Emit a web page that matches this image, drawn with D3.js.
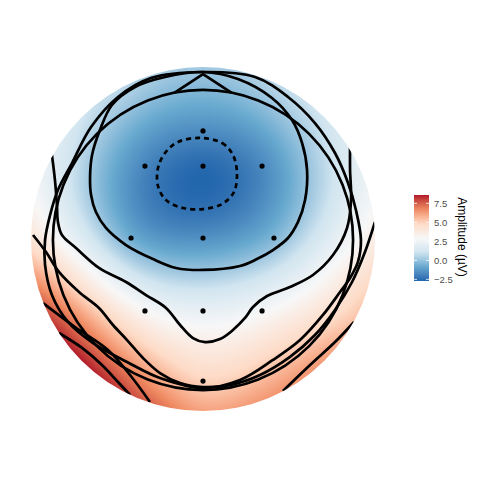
<!DOCTYPE html>
<html><head><meta charset="utf-8">
<script src="https://cdn.jsdelivr.net/npm/d3@7"></script>
<style>body{margin:0;background:#fff}svg{display:block}</style>
</head><body>
<script>
// ---------------- data ----------------
const electrodes = ["Fpz","F3","Fz","F4","C3","Cz","C4","P3","Pz","P4","Oz"];
const elecX = [0, -0.405, 0, 0.412, -0.502, 0, 0.495, -0.405, 0, 0.412, 0];
const elecY = [0.754, 0.509, 0.509, 0.509, 0.007, 0.007, 0.007, -0.502, -0.502, -0.502, -0.991];
const amplitude = [-1.6, -1.8, -2.6, -1.7, -0.7, -1.5, -0.4, 3.0, 2.2, 2.8, 5.0];
// extrapolated rim of the skirt (angle clockwise from nose, degrees)
const rimAngle = [0, 30, 60, 90, 105, 120, 135, 150, 165, 180, 195, 210, 225, 240, 255, 270, 300, 330];
const rimValue = [0.2, 0.8, 1.8, 3.6, 4.8, 5.5, 6.3, 6.5, 6.3, 6.2, 7.2, 8.2, 8.6, 8.2, 6.6, 4.3, 1.8, 0.7];
const colourLimits = [-2.72, 8.6];
const legendBreaks = [-2.5, 0, 2.5, 5, 7.5];
const legendTitle = "Amplitude (\u00b5V)";
const skirtRadius = 1.2;
const headRadius = 1.047;
const headCentre = [0, -0.007];
const nose = [[-0.2,1.02],[0,1.151],[0.2,1.02]];
// contour lines (head coordinates)
const contourMin = [[-0.021,0.705],[0.133,0.670],[0.209,0.586],[0.237,0.460],[0.216,0.328],[0.133,0.244],[0,0.209],[-0.140,0.216],[-0.258,0.272],[-0.314,0.370],[-0.314,0.495],[-0.265,0.600],[-0.174,0.677]];
const contourZero = [[0,1.165],[0.244,1.116],[0.481,0.984],[0.621,0.830],[0.691,0.670],[0.726,0.481],[0.712,0.272],[0.663,0.119],[0.593,0.007],[0.488,-0.077],[0.376,-0.140],[0.258,-0.188],[0,-0.216],[-0.188,-0.202],[-0.349,-0.140],[-0.537,-0.042],[-0.677,0.077],[-0.747,0.188],[-0.781,0.307],[-0.788,0.433],[-0.774,0.586],[-0.719,0.760],[-0.635,0.935],[-0.474,1.060],[-0.265,1.130]];
const contourMid = [[-1.054,0.586],[-1.033,0.412],[-1.019,0.237],[-1.012,0.119],[-0.984,0.028],[-0.886,-0.063],[-0.726,-0.202],[-0.537,-0.300],[-0.398,-0.391],[-0.258,-0.481],[-0.160,-0.600],[-0.070,-0.691],[0.014,-0.719],[0.119,-0.698],[0.209,-0.635],[0.293,-0.551],[0.349,-0.474],[0.447,-0.398],[0.607,-0.335],[0.767,-0.251],[0.907,-0.112],[1.005,0.077],[1.033,0.272],[1.026,0.481],[1.026,0.656]];
const contourOuter = [[0,1.165],[0.363,1.130],[0.593,0.991],[0.781,0.809],[0.921,0.600],[1.012,0.391],[1.067,0.202],[1.102,-0.007],[1.081,-0.160],[1.026,-0.272],[0.956,-0.370],[0.837,-0.530],[0.677,-0.705],[0.488,-0.844],[0.258,-0.984],[0,-1.040],[-0.300,-0.970],[-0.530,-0.858],[-0.767,-0.726],[-0.942,-0.579],[-1.054,-0.391],[-1.102,-0.181],[-1.102,-0.007],[-1.067,0.167],[-1.012,0.342],[-0.914,0.530],[-0.781,0.781],[-0.593,0.991],[-0.363,1.123]];
const contourLow = [[-1.186,0.028],[-1.095,-0.091],[-1.005,-0.230],[-0.865,-0.370],[-0.726,-0.481],[-0.628,-0.600],[-0.530,-0.705],[-0.419,-0.830],[-0.300,-0.935],[-0.160,-1.005],[0,-1.033],[0.188,-1.019],[0.398,-0.949],[0.607,-0.823],[0.781,-0.670],[0.921,-0.495],[1.040,-0.300],[1.130,-0.091],[1.200,0.119]];
const contourCornerA = [[-1.005,-0.656],[-0.844,-0.760],[-0.705,-0.879],[-0.593,-0.998],[-0.509,-1.088]];
const contourCornerB = [[-1.116,-0.447],[-0.893,-0.614],[-0.663,-0.774],[-0.509,-0.949],[-0.370,-1.137]];
const contourCornerR = [[1.054,-0.579],[0.921,-0.719],[0.747,-0.879],[0.558,-1.060]];
const openLines = [contourMid, contourLow, contourCornerA, contourCornerB, contourCornerR];
const closedLines = [contourZero, contourOuter];
const rdbu = ["#2166AC","#67A9CF","#D1E5F0","#F7F7F7","#FDDBC7","#EF8A62","#B2182B"];

// ---------------- layout ----------------
const W = 480, H = 480;
const x = d3.scaleLinear().domain([-1.2, 1.2]).range([31, 375]);
const y = d3.scaleLinear().domain([-1.2, 1.2]).range([411, 67]);
const colour = d3.scaleLinear()
  .domain(d3.range(rdbu.length).map(i => colourLimits[0] + i*(colourLimits[1]-colourLimits[0])/(rdbu.length-1)))
  .range(rdbu).interpolate(d3.interpolateLab).clamp(true);

const svg = d3.select("body").append("svg").attr("width", W).attr("height", H);
const defs = svg.append("defs");
defs.append("clipPath").attr("id","skirt").append("circle")
  .attr("cx", x(0)).attr("cy", y(0)).attr("r", x(skirtRadius) - x(0));

// thin-plate spline through electrode and rim amplitudes
function tps(px, py, v) {
  const n = px.length, N = n + 3;
  const phi = r => r < 1e-12 ? 0 : r*r*Math.log(r);
  const A = Array.from({length:N}, () => new Array(N+1).fill(0));
  for (let i=0;i<n;i++){
    for (let j=0;j<n;j++) A[i][j] = phi(Math.hypot(px[i]-px[j], py[i]-py[j]));
    A[i][n]=1; A[i][n+1]=px[i]; A[i][n+2]=py[i];
    A[n][i]=1; A[n+1][i]=px[i]; A[n+2][i]=py[i];
    A[i][N]=v[i];
  }
  for (let c=0;c<N;c++){
    let p=c; for (let r=c+1;r<N;r++) if (Math.abs(A[r][c])>Math.abs(A[p][c])) p=r;
    [A[c],A[p]]=[A[p],A[c]];
    for (let r=0;r<N;r++){ if(r===c) continue; const f=A[r][c]/A[c][c]; for(let k=c;k<=N;k++) A[r][k]-=f*A[c][k]; }
  }
  const w = A.map((row,i)=>row[N]/row[i]);
  return (qx,qy) => { let s=w[n]+w[n+1]*qx+w[n+2]*qy; for(let i=0;i<n;i++) s+=w[i]*phi(Math.hypot(qx-px[i],qy-py[i])); return s; };
}
const rad = a => a*Math.PI/180;
const allX = elecX.concat(rimAngle.map(a => skirtRadius*Math.sin(rad(a))));
const allY = elecY.concat(rimAngle.map(a => skirtRadius*Math.cos(rad(a))));
const field = tps(allX, allY, amplitude.concat(rimValue));

const x0 = Math.floor(x(-skirtRadius)), x1 = Math.ceil(x(skirtRadius));
const y0 = Math.floor(y(skirtRadius)), y1 = Math.ceil(y(-skirtRadius));
const cw = x1-x0, ch = y1-y0;
const canvas = document.createElement("canvas"); canvas.width=cw; canvas.height=ch;
const ctx = canvas.getContext("2d"); const img = ctx.createImageData(cw,ch);
for (let j=0;j<ch;j++) for (let i=0;i<cw;i++){
  const qx = x.invert(x0+i+0.5), qy = y.invert(y0+j+0.5);
  const c = d3.rgb(colour(field(qx,qy)));
  const k=(j*cw+i)*4; img.data[k]=c.r; img.data[k+1]=c.g; img.data[k+2]=c.b; img.data[k+3]=255;
}
ctx.putImageData(img,0,0);
svg.append("image").attr("href", canvas.toDataURL()).attr("x",x0).attr("y",y0)
  .attr("width",cw).attr("height",ch).attr("clip-path","url(#skirt)");

const g = svg.append("g").attr("clip-path","url(#skirt)")
  .attr("fill","none").attr("stroke","#000").attr("stroke-width",2.7);
const open = d3.line().x(d=>x(d[0])).y(d=>y(d[1])).curve(d3.curveCatmullRom.alpha(0.5));
const closed = d3.line().x(d=>x(d[0])).y(d=>y(d[1])).curve(d3.curveCatmullRomClosed.alpha(0.5));
g.selectAll("path.open").data(openLines).join("path").attr("class","open").attr("d",open);
g.selectAll("path.closed").data(closedLines).join("path").attr("class","closed").attr("d",closed);
g.append("path").attr("d",closed(contourMin)).attr("stroke-dasharray","5,4");
g.append("circle").attr("cx",x(headCentre[0])).attr("cy",y(headCentre[1])).attr("r",x(headRadius)-x(0));
g.append("path").attr("d",d3.line().x(d=>x(d[0])).y(d=>y(d[1]))(nose)).attr("stroke-linejoin","miter");

svg.append("g").selectAll("circle").data(electrodes).join("circle")
  .attr("cx",(d,i)=>x(elecX[i])).attr("cy",(d,i)=>y(elecY[i])).attr("r",2.6).attr("fill","#000");

// ---------------- legend ----------------
const lg = svg.append("g");
const ly = d3.scaleLinear().domain(colourLimits).range([281,195]);
const grad = defs.append("linearGradient").attr("id","lgrad").attr("x1",0).attr("x2",0).attr("y1",1).attr("y2",0);
d3.range(0,1.0001,0.05).forEach(t=>grad.append("stop").attr("offset",t)
  .attr("stop-color",colour(colourLimits[0]+t*(colourLimits[1]-colourLimits[0]))));
lg.append("rect").attr("x",414).attr("y",195).attr("width",15).attr("height",86).attr("fill","url(#lgrad)");
lg.selectAll("line.tl").data(legendBreaks).join("line").attr("class","tl")
  .attr("x1",414).attr("x2",417).attr("y1",d=>ly(d)).attr("y2",d=>ly(d)).attr("stroke","#fff").attr("stroke-width",0.8);
lg.selectAll("line.tr").data(legendBreaks).join("line").attr("class","tr")
  .attr("x1",426).attr("x2",429).attr("y1",d=>ly(d)).attr("y2",d=>ly(d)).attr("stroke","#fff").attr("stroke-width",0.8);
lg.selectAll("text.lab").data(legendBreaks).join("text").attr("class","lab")
  .attr("x",434).attr("y",d=>ly(d)).attr("dy","0.35em")
  .attr("font-family","Liberation Sans, Arial, sans-serif").attr("font-size",9.5).attr("fill","#4d4d4d")
  .text(d=>d3.format(".1f")(d));
lg.append("text").attr("transform","translate(462,237) rotate(90)").attr("text-anchor","middle").attr("dy","0.35em")
  .attr("font-family","Liberation Sans, Arial, sans-serif").attr("font-size",12).attr("fill","#000").text(legendTitle);
</script>
</body></html>
